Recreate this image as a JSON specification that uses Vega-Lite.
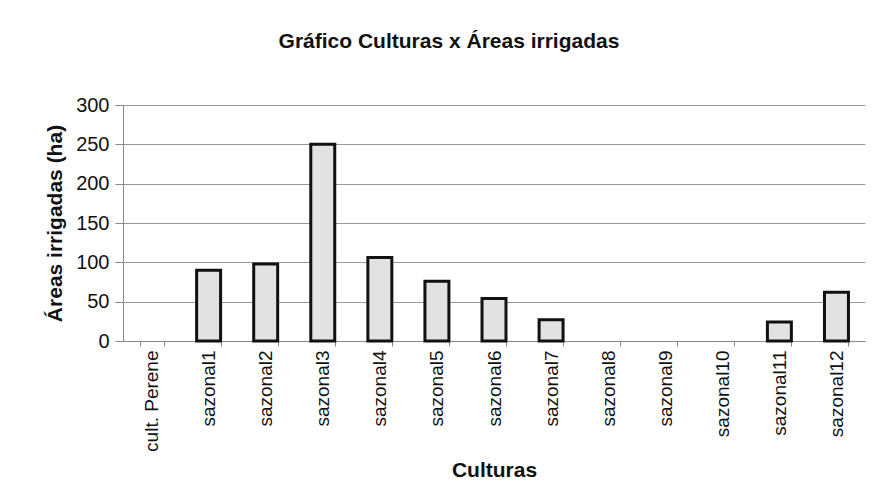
{
  "$schema": "https://vega.github.io/schema/vega-lite/v6.json",
  "width": 742,
  "height": 236,
  "autosize": "none",
  "padding": {"left": 123, "top": 105, "right": 7, "bottom": 156},
  "background": "white",
  "title": {
    "text": "Gráfico Culturas x Áreas irrigadas",
    "font": "Liberation Sans",
    "fontSize": 21,
    "fontWeight": "bold",
    "color": "#111",
    "anchor": "middle",
    "dx": -45,
    "offset": 43
  },
  "data": {
    "values": [
      {"cultura": "cult. Perene", "area": 0},
      {"cultura": "sazonal1", "area": 90},
      {"cultura": "sazonal2", "area": 98},
      {"cultura": "sazonal3", "area": 250},
      {"cultura": "sazonal4", "area": 106},
      {"cultura": "sazonal5", "area": 76},
      {"cultura": "sazonal6", "area": 54},
      {"cultura": "sazonal7", "area": 27},
      {"cultura": "sazonal8", "area": 0},
      {"cultura": "sazonal9", "area": 0},
      {"cultura": "sazonal10", "area": 0},
      {"cultura": "sazonal11", "area": 24},
      {"cultura": "sazonal12", "area": 62}
    ]
  },
  "mark": {"type": "bar", "fill": "#e2e2e2", "stroke": "#111", "strokeWidth": 3},
  "encoding": {
    "x": {
      "field": "cultura",
      "type": "nominal",
      "sort": null,
      "scale": {"paddingInner": 0.58, "paddingOuter": 0.29},
      "axis": {
        "title": "Culturas",
        "titleFont": "Liberation Sans",
        "titleFontSize": 21,
        "titleFontWeight": "bold",
        "titleColor": "#111",
        "titlePadding": 8,
        "labelAngle": -90,
        "labelFont": "Liberation Sans",
        "labelFontSize": 19,
        "labelColor": "#111",
        "labelPadding": 4,
        "tickBand": "extent",
        "tickSize": 5,
        "tickColor": "#888",
        "domainColor": "#888",
        "grid": false
      }
    },
    "y": {
      "field": "area",
      "type": "quantitative",
      "scale": {"domain": [0, 300]},
      "axis": {
        "title": "Áreas irrigadas (ha)",
        "titleFont": "Liberation Sans",
        "titleFontSize": 21,
        "titleFontWeight": "bold",
        "titleColor": "#111",
        "titlePadding": 10,
        "values": [0, 50, 100, 150, 200, 250, 300],
        "labelFont": "Liberation Sans",
        "labelFontSize": 20,
        "labelColor": "#111",
        "labelPadding": 6,
        "tickSize": 8,
        "tickColor": "#888",
        "domainColor": "#888",
        "gridColor": "#999",
        "gridWidth": 1
      }
    },
    "strokeOpacity": {"condition": {"test": "datum.area == 0", "value": 0}, "value": 1}
  },
  "config": {"view": {"stroke": null}}
}
